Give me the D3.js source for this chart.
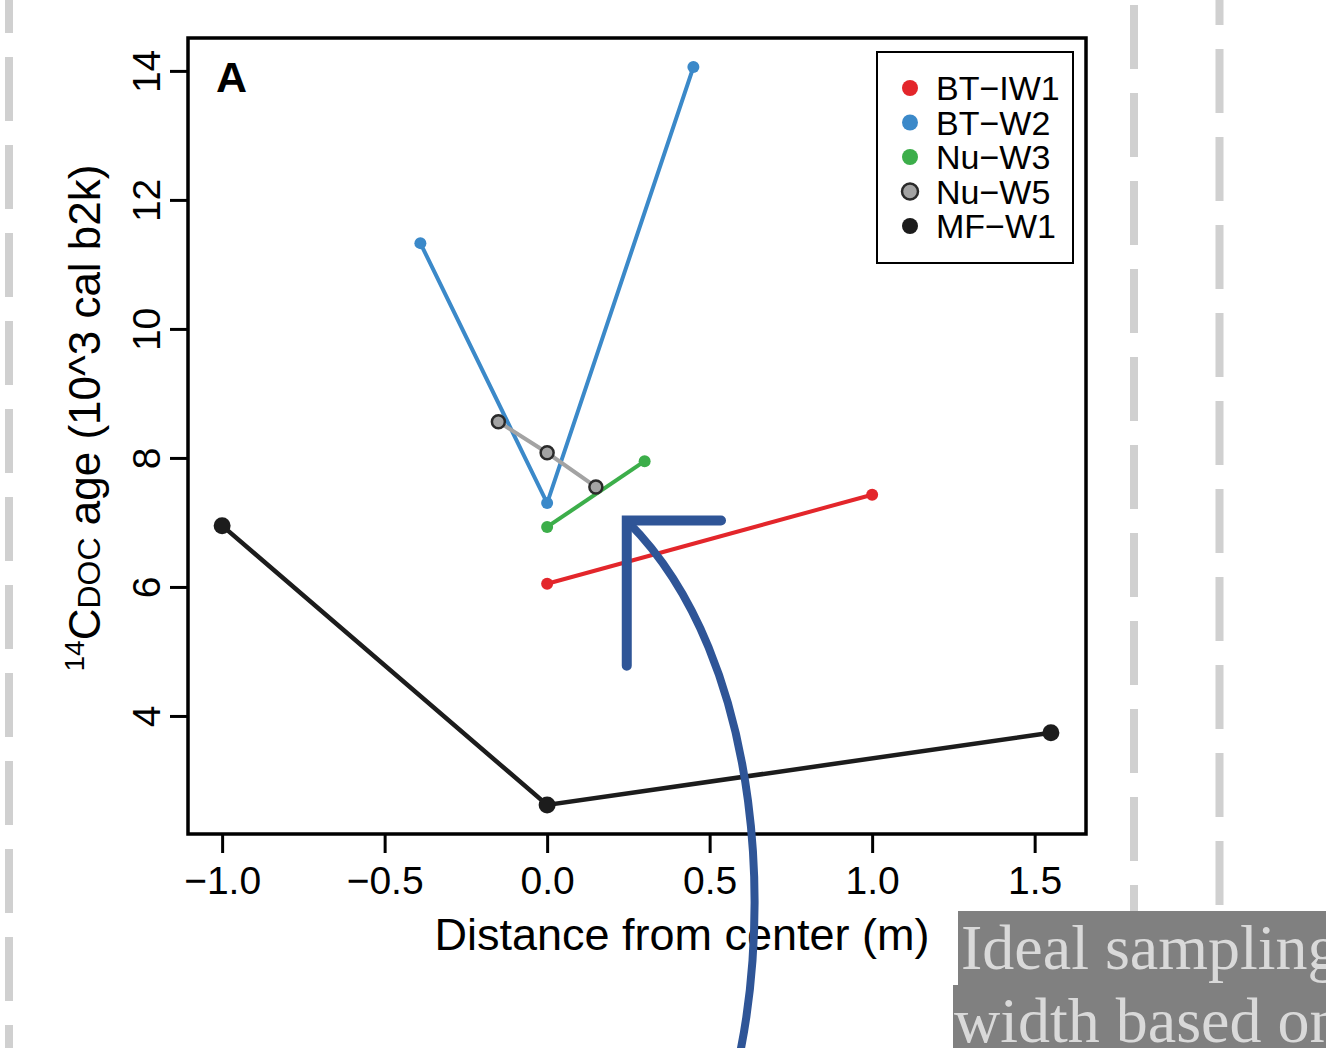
<!DOCTYPE html>
<html>
<head>
<meta charset="utf-8">
<script src="https://cdn.jsdelivr.net/npm/d3@7"></script>
<style>
  body { margin: 0; background: #fff; }
  svg { display: block; }
  text { font-family: "Liberation Sans", Arial, Helvetica, sans-serif; }
</style>
</head>
<body>
<div id="chart"></div>
<script>
// series names (R style minus sign)
let seriesNames = ['BT\u2212IW1', 'BT\u2212W2', 'Nu\u2212W3', 'Nu\u2212W5', 'MF\u2212W1']
let seriesColors = ['#e3262b', '#3b89c9', '#3cae4a', '#a3a3a3', '#1c1c1c']

// distance from center (m) / age (10^3 cal b2k)
let btIw1X = [0.0, 1.0]
let btIw1Y = [6.05, 7.43]
let btW2X = [-0.39, 0.0, 0.45]
let btW2Y = [11.33, 7.30, 14.06]
let nuW3X = [0.0, 0.30]
let nuW3Y = [6.93, 7.95]
let nuW5X = [-0.15, 0.0, 0.15]
let nuW5Y = [8.56, 8.08, 7.55]
let mfW1X = [-1.0, 0.0, 1.55]
let mfW1Y = [6.95, 2.62, 3.74]

let xTicks = [-1.0, -0.5, 0.0, 0.5, 1.0, 1.5]
let yTicks = [4, 6, 8, 10, 12, 14]

// annotation arrow, in data units
let arrowCurve = [[0.555, -2.0], [0.71, 0.6], [0.67, 4.88], [0.25, 7.0]]
let arrowHead = [[0.535, 7.03], [0.245, 7.03], [0.245, 4.78]]

function zip(xs, ys) {
    return xs.map((v, i) => ({ x: v, y: ys[i] }))
}

function drawChart() {
    let svgWidth = 1326
    let svgHeight = 1048
    let box = { left: 188, top: 38, right: 1086, bottom: 834 }

    let svg = d3.select('#chart').append('svg')
        .attr('width', svgWidth)
        .attr('height', svgHeight)

    // slide decoration: dashed guide lines
    let guides = [
        { x: 9, offset: 31, end: svgHeight },
        { x: 1134, offset: 83, end: 912 },
        { x: 1219.5, offset: 39, end: 905 }
    ]
    svg.append('g')
        .selectAll('line')
        .data(guides)
        .enter()
        .append('line')
        .attr('x1', d => d.x)
        .attr('x2', d => d.x)
        .attr('y1', 0)
        .attr('y2', d => d.end)
        .attr('stroke', '#d0d0d0')
        .attr('stroke-width', 8)
        .attr('stroke-dasharray', '64 24')
        .attr('stroke-dashoffset', d => d.offset)

    let x = d3.scaleLinear()
        .domain([-1.105, 1.658])
        .range([box.left, box.right])
    let y = d3.scaleLinear()
        .domain([2.17, 14.51])
        .range([box.bottom, box.top])

    let axis_x = d3.axisBottom(x)
        .tickValues(xTicks)
        .tickSize(19)
        .tickPadding(13)
        .tickFormat(d3.format('.1f'))
    let gx = svg.append('g')
        .attr('transform', `translate(0, ${box.bottom})`)
        .call(axis_x)
    gx.select('.domain').remove()
    gx.selectAll('line').attr('stroke', '#000').attr('stroke-width', 3)
    gx.selectAll('text')
        .attr('fill', '#000')
        .attr('font-size', 39)
        .attr('font-family', '"Liberation Sans", Arial, sans-serif')

    let axis_y = d3.axisLeft(y)
        .tickValues(yTicks)
        .tickSize(18)
        .tickFormat(d => d)
    let gy = svg.append('g')
        .attr('transform', `translate(${box.left}, 0)`)
        .call(axis_y)
    gy.select('.domain').remove()
    gy.selectAll('line').attr('stroke', '#000').attr('stroke-width', 3)
    gy.selectAll('text')
        .attr('fill', '#000')
        .attr('font-size', 39)
        .attr('font-family', '"Liberation Sans", Arial, sans-serif')
        .attr('text-anchor', 'middle')
        .attr('x', 0)
        .attr('dy', 0)
        .attr('y', -28)
        .attr('transform', 'rotate(-90)')

    // axis titles
    svg.append('text')
        .attr('x', 682)
        .attr('y', 950)
        .attr('text-anchor', 'middle')
        .attr('font-size', 45)
        .text('Distance from center (m)')

    let yTitle = svg.append('text')
        .attr('transform', `translate(100, 418) rotate(-90)`)
        .attr('text-anchor', 'middle')
        .attr('font-size', 44)
    yTitle.append('tspan').attr('font-size', 28).attr('dy', -16).text('14')
    yTitle.append('tspan').attr('dy', 16).text('C')
    yTitle.append('tspan').attr('font-size', 32).text('DOC')
    yTitle.append('tspan').text(' age (10^3 cal b2k)')

    // series
    let allSeries = [
        { name: seriesNames[0], color: seriesColors[0], pts: zip(btIw1X, btIw1Y), r: 6, w: 4 },
        { name: seriesNames[2], color: seriesColors[2], pts: zip(nuW3X, nuW3Y), r: 6, w: 4 },
        { name: seriesNames[1], color: seriesColors[1], pts: zip(btW2X, btW2Y), r: 6, w: 4 },
        { name: seriesNames[3], color: seriesColors[3], pts: zip(nuW5X, nuW5Y), r: 6.5, w: 4, stroke: '#2a2a2a' },
        { name: seriesNames[4], color: seriesColors[4], pts: zip(mfW1X, mfW1Y), r: 8.5, w: 4.5 }
    ]

    let line = d3.line()
        .x(d => x(d.x))
        .y(d => y(d.y))

    allSeries.forEach(s => {
        let g = svg.append('g')
        g.append('path')
            .datum(s.pts)
            .attr('d', line)
            .attr('fill', 'none')
            .attr('stroke', s.color)
            .attr('stroke-width', s.w)
        g.selectAll('circle')
            .data(s.pts)
            .enter()
            .append('circle')
            .attr('cx', d => x(d.x))
            .attr('cy', d => y(d.y))
            .attr('r', s.r)
            .attr('fill', s.color)
            .attr('stroke', s.stroke || 'none')
            .attr('stroke-width', 2.5)
    })

    // frame
    svg.append('rect')
        .attr('x', box.left)
        .attr('y', box.top)
        .attr('width', box.right - box.left)
        .attr('height', box.bottom - box.top)
        .attr('fill', 'none')
        .attr('stroke', '#000')
        .attr('stroke-width', 3.5)

    svg.append('text')
        .attr('x', 216)
        .attr('y', 92)
        .attr('font-size', 43)
        .attr('font-weight', 'bold')
        .text('A')

    // legend
    let legend = svg.append('g')
    legend.append('rect')
        .attr('x', 877)
        .attr('y', 52)
        .attr('width', 196)
        .attr('height', 211)
        .attr('fill', '#fff')
        .attr('stroke', '#000')
        .attr('stroke-width', 2)
    let items = legend.selectAll('.item')
        .data(seriesNames)
        .enter()
        .append('g')
        .attr('class', 'item')
        .attr('transform', (d, i) => `translate(910, ${88 + i * 34.5})`)
    items.append('circle')
        .attr('r', 8)
        .attr('fill', (d, i) => seriesColors[i])
        .attr('stroke', (d, i) => i == 3 ? '#2a2a2a' : 'none')
        .attr('stroke-width', 2.5)
    items.append('text')
        .attr('x', 26)
        .attr('y', 12)
        .attr('font-size', 34)
        .text(d => d)

    // annotation arrow
    let ax = p => x(p[0])
    let ay = p => y(p[1])
    let c = arrowCurve
    svg.append('path')
        .attr('d', `M${ax(c[0])},${ay(c[0])} C${ax(c[1])},${ay(c[1])} ${ax(c[2])},${ay(c[2])} ${ax(c[3])},${ay(c[3])}`)
        .attr('fill', 'none')
        .attr('stroke', '#2f5597')
        .attr('stroke-width', 8)
        .attr('stroke-linecap', 'round')
    svg.append('path')
        .datum(arrowHead)
        .attr('d', d3.line().x(ax).y(ay))
        .attr('fill', 'none')
        .attr('stroke', '#2f5597')
        .attr('stroke-width', 10)
        .attr('stroke-linecap', 'round')
        .attr('stroke-linejoin', 'miter')

    // slide caption box (cut off at the right, as in the slide)
    svg.append('rect')
        .attr('x', 958).attr('y', 911)
        .attr('width', svgWidth - 958).attr('height', 75)
        .attr('fill', '#808080')
    svg.append('rect')
        .attr('x', 953).attr('y', 985)
        .attr('width', svgWidth - 953).attr('height', 63)
        .attr('fill', '#808080')
    let caption = ['Ideal sampling', 'width based on']
    svg.selectAll('.caption')
        .data(caption)
        .enter()
        .append('text')
        .attr('class', 'caption')
        .attr('x', (d, i) => i == 0 ? 961 : 954)
        .attr('y', (d, i) => 969 + i * 73)
        .style('font-family', '"Liberation Serif", "Times New Roman", serif')
        .attr('font-size', 64)
        .attr('fill', '#d9d9d9')
        .text(d => d)
}

drawChart()
</script>
</body>
</html>
